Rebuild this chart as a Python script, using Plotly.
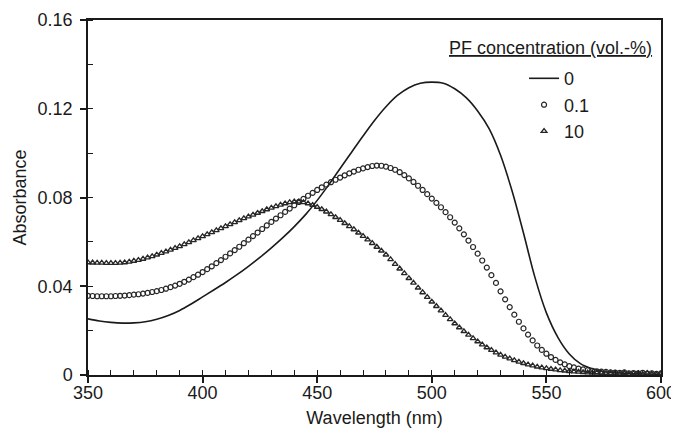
import plotly.graph_objects as go

# ---------------- data ----------------
wl_line = [350, 355, 360, 365, 370, 375, 380, 385, 390, 395, 400, 405, 410, 415, 420,
           425, 430, 435, 440, 445, 450, 455, 460, 465, 470, 475, 480, 485, 490, 495,
           500, 505, 510, 515, 520, 525, 530, 535, 540, 545, 550, 555, 560, 565, 570,
           575, 580, 585, 590, 595, 600]
abs_0 = [0.0253, 0.0243, 0.0237, 0.0234, 0.0235, 0.0240, 0.0251, 0.0268, 0.0291, 0.0320,
         0.0352, 0.0384, 0.0417, 0.0452, 0.0490, 0.0530, 0.0573, 0.0619, 0.0669, 0.0724,
         0.0787, 0.0857, 0.0931, 0.1004, 0.1077, 0.1147, 0.1209, 0.1260, 0.1295, 0.1315,
         0.1320, 0.1315, 0.1290, 0.1250, 0.1190, 0.1110, 0.0990, 0.0830, 0.0640, 0.0440,
         0.0280, 0.0170, 0.0095, 0.0050, 0.0028, 0.0016, 0.0010, 0.0007, 0.0005, 0.0004,
         0.0003]

wl_pts = list(range(350, 601, 2))
abs_01 = [0.0357, 0.0356, 0.0355, 0.0355, 0.0355, 0.0355, 0.0356, 0.0357, 0.0358, 0.0360,
          0.0362, 0.0364, 0.0367, 0.0370, 0.0374, 0.0378, 0.0383, 0.0389, 0.0396, 0.0403,
          0.0411, 0.0420, 0.0430, 0.0441, 0.0452, 0.0464, 0.0477, 0.0490, 0.0504, 0.0518,
          0.0533, 0.0548, 0.0563, 0.0578, 0.0594, 0.0610, 0.0626, 0.0642, 0.0658, 0.0674,
          0.0690, 0.0705, 0.0720, 0.0735, 0.0750, 0.0765, 0.0780, 0.0794, 0.0808, 0.0821,
          0.0834, 0.0846, 0.0858, 0.0869, 0.0880, 0.0890, 0.0900, 0.0909, 0.0917, 0.0925,
          0.0931, 0.0937, 0.0942, 0.0944, 0.0943, 0.0939, 0.0933, 0.0925, 0.0914, 0.0901,
          0.0886, 0.0870, 0.0853, 0.0834, 0.0815, 0.0795, 0.0776, 0.0756, 0.0734, 0.0711,
          0.0687, 0.0661, 0.0634, 0.0606, 0.0577, 0.0547, 0.0516, 0.0484, 0.0450, 0.0415,
          0.0377, 0.0341, 0.0306, 0.0272, 0.0240, 0.0210, 0.0182, 0.0156, 0.0133, 0.0113,
          0.0096, 0.0081, 0.0068, 0.0057, 0.0048, 0.0040, 0.0034, 0.0029, 0.0025, 0.0022,
          0.0019, 0.0017, 0.0015, 0.0014, 0.0012, 0.0011, 0.0010, 0.0012, 0.0008, 0.0009,
          0.0007, 0.0010, 0.0006, 0.0008, 0.0005, 0.0007]
abs_10 = [0.0507, 0.0506, 0.0505, 0.0505, 0.0504, 0.0504, 0.0504, 0.0505, 0.0507, 0.0510,
          0.0514, 0.0518, 0.0523, 0.0529, 0.0535, 0.0542, 0.0549, 0.0556, 0.0564, 0.0572,
          0.0580, 0.0589, 0.0598, 0.0607, 0.0616, 0.0625, 0.0634, 0.0643, 0.0652, 0.0661,
          0.0670, 0.0679, 0.0688, 0.0697, 0.0706, 0.0714, 0.0722, 0.0730, 0.0738, 0.0746,
          0.0753, 0.0760, 0.0767, 0.0773, 0.0778, 0.0781, 0.0781, 0.0778, 0.0773, 0.0766,
          0.0757, 0.0747, 0.0736, 0.0724, 0.0711, 0.0698, 0.0684, 0.0670, 0.0656, 0.0641,
          0.0626, 0.0610, 0.0594, 0.0577, 0.0560, 0.0542, 0.0521, 0.0500, 0.0479, 0.0458,
          0.0436, 0.0415, 0.0393, 0.0372, 0.0351, 0.0330, 0.0310, 0.0290, 0.0270, 0.0251,
          0.0232, 0.0214, 0.0197, 0.0181, 0.0165, 0.0151, 0.0137, 0.0124, 0.0112, 0.0101,
          0.0091, 0.0082, 0.0074, 0.0066, 0.0059, 0.0053, 0.0047, 0.0042, 0.0037, 0.0033,
          0.0030, 0.0027, 0.0024, 0.0021, 0.0019, 0.0017, 0.0015, 0.0014, 0.0012, 0.0011,
          0.0010, 0.0010, 0.0009, 0.0008, 0.0008, 0.0009, 0.0006, 0.0008, 0.0005, 0.0007,
          0.0006, 0.0004, 0.0008, 0.0005, 0.0003, 0.0006]

series_names = ["0", "0.1", "10"]
legend_title = "PF concentration (vol.-%)"
x_ticks = [350, 400, 450, 500, 550, 600]
x_ticktext = ["350", "400", "450", "500", "550", "600"]
y_ticks = [0, 0.04, 0.08, 0.12, 0.16]
y_ticktext = ["0", "0.04", "0.08", "0.12", "0.16"]
x_title = "Wavelength (nm)"
y_title = "Absorbance"

# ---------------- figure ----------------
FONT = "Liberation Sans, Arial, sans-serif"
INK = "#1a1a1a"
MARK = "#262626"

fig = go.Figure()
fig.add_trace(go.Scatter(x=wl_line, y=abs_0, mode="lines", name=series_names[0],
                         line=dict(color=INK, width=1.6, shape="spline")))
fig.add_trace(go.Scatter(x=wl_pts, y=abs_01, mode="markers", name=series_names[1],
                         marker=dict(symbol="circle-open", size=5, color=MARK,
                                     line=dict(width=1.2, color=MARK))))
fig.add_trace(go.Scatter(x=wl_pts, y=abs_10, mode="markers", name=series_names[2],
                         marker=dict(symbol="triangle-up-open", size=5, color=MARK,
                                     line=dict(width=1.35, color=MARK))))

axis_common = dict(showgrid=False, zeroline=False, linecolor=INK, linewidth=1.5,
                   tickcolor=INK, tickwidth=1.5, automargin=False)

# the page body adds an 8 px margin, so the figure is drawn 8 px smaller
fig.update_layout(
    width=671, height=435,
    margin=dict(l=80, r=18, t=12, b=68),
    paper_bgcolor="white", plot_bgcolor="white",
    font=dict(family=FONT, size=18, color=INK),
    showlegend=True,
    legend=dict(x=0.761, y=0.887, xanchor="left", yanchor="top",
                bgcolor="rgba(0,0,0,0)", font=dict(size=18), itemwidth=30,
                tracegroupgap=0),
    xaxis=dict(range=[350, 600], tickvals=x_ticks, ticktext=x_ticktext,
               ticks="outside", ticklen=6, showline=True, mirror=True,
               ticklabelstandoff=-5,
               minor=dict(dtick=10, tick0=350, ticks="inside", ticklen=5,
                          tickcolor=INK, tickwidth=1.2),
               title=dict(text=x_title, standoff=9, font=dict(size=18)),
               **axis_common),
    yaxis=dict(range=[0, 0.16], tickvals=y_ticks, ticktext=y_ticktext,
               ticks="outside", ticklen=6, showline=True, mirror=True,
               ticklabelstandoff=4,
               minor=dict(dtick=0.02, tick0=0, ticks="inside", ticklen=5,
                          tickcolor=INK, tickwidth=1.2),
               title=dict(text=y_title, standoff=6, font=dict(size=18)),
               **axis_common),
    xaxis2=dict(overlaying="x", matches="x", range=[350, 600], tickvals=x_ticks,
                ticks="inside", ticklen=6, showticklabels=False, showline=False,
                showgrid=False, zeroline=False, tickcolor=INK, tickwidth=1.5),
    yaxis2=dict(overlaying="y", matches="y", range=[0, 0.16], tickvals=y_ticks,
                ticks="inside", ticklen=6, showticklabels=False, showline=False,
                showgrid=False, zeroline=False, tickcolor=INK, tickwidth=1.5),
    annotations=[dict(text="<u>" + legend_title + "</u>", xref="paper", yref="paper",
                      x=0.987, y=0.888, xanchor="right", yanchor="bottom",
                      showarrow=False, font=dict(size=18, family=FONT, color=INK))],
)

fig.write_html("out.html")
